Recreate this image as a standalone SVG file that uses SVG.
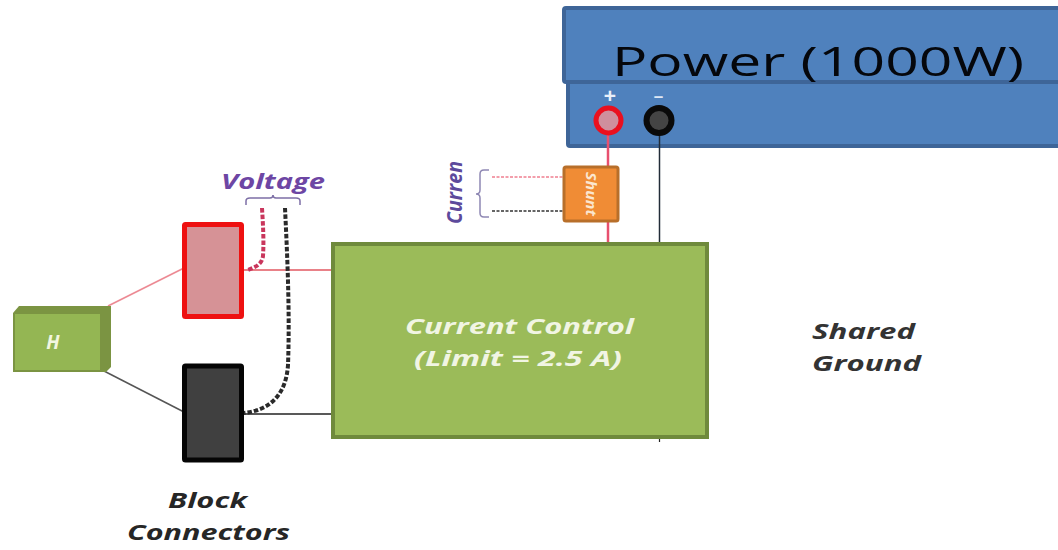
<svg xmlns="http://www.w3.org/2000/svg" width="1058" height="550" viewBox="0 0 1058 550">
<style>
.lbl{font-family:"Open Sans","DejaVu Sans",sans-serif;font-style:italic;font-weight:700}
.blue{fill:#4f81bd;stroke:#3e6598;stroke-width:4}
.green{fill:#9bbb59;stroke:#6f8a3c;stroke-width:4}
</style>
<rect width="1058" height="550" fill="#fff"/>
<g id="power">
<rect class="blue" x="568" y="78" width="494" height="68" rx="2"/>
<rect class="blue" x="564" y="8" width="498" height="74" rx="2"/>
<text x="612" y="76" font-family="'Open Sans',sans-serif" font-size="41" fill="#05070c" textLength="412" lengthAdjust="spacingAndGlyphs">Power (1000W)</text>
<text x="610" y="103" font-family="'Liberation Sans',sans-serif" font-size="21" font-weight="700" fill="#eaf0fa" text-anchor="middle">+</text>
<text x="653" y="101" font-family="'Liberation Sans',sans-serif" font-size="14" font-weight="700" fill="#dfe8f5" textLength="11" lengthAdjust="spacingAndGlyphs">-</text>
</g>
<g id="connectors" fill="none">
<path d="M608 131V244" stroke="#e8506f" stroke-width="2.500"/>
<path d="M659.500 131V244" stroke="#222c38" stroke-width="1.500"/>
<path d="M659.500 436V442" stroke="#222" stroke-width="1.200"/>
<path d="M108 306L184 268" stroke="#ec8a94" stroke-width="1.600"/>
<path d="M104 371L184 412" stroke="#555" stroke-width="1.500"/>
<path d="M244 270H334" stroke="#e25760" stroke-width="1.400"/>
<path d="M244 414H334" stroke="#222" stroke-width="1.400"/>
<path d="M262 208C263 225 264 240 263 256C262 264 256 267 248 270" stroke="#c9365c" stroke-width="4" stroke-dasharray="4.500 2"/>
<path d="M285 208C287 250 290 310 288 365C286 395 270 410 244 413" stroke="#2a2a2a" stroke-width="4" stroke-dasharray="4.500 2"/>
<path d="M492 177H565" stroke="#ef7f90" stroke-width="1.500" stroke-dasharray="3 1.500"/>
<path d="M492 211H565" stroke="#333" stroke-width="1.500" stroke-dasharray="3 1.500"/>
<path d="M246 205V201Q246 198 250 198H270Q273 198 273 195Q273 198 276 198H296Q300 198 300 201V205" stroke="#7d6fa6" stroke-width="1.500"/>
<path d="M489 170H484Q480 170 480 174V190Q480 194 476 194Q480 194 480 198V213Q480 217 484 217H489" stroke="#8f88b4" stroke-width="1.500"/>
</g>
<g id="plus-terminal"><circle cx="608.500" cy="120.500" r="12.500" fill="#cf8f9d" stroke="#e9101f" stroke-width="5"/></g>
<g id="minus-terminal"><circle cx="659" cy="120.500" r="12.500" fill="#444" stroke="#0a0a0a" stroke-width="6"/></g>
<g id="shunt">
<rect x="564" y="167" width="54" height="54" rx="2" fill="#f08c35" stroke="#b86f2a" stroke-width="3"/>
<text transform="translate(591 194) rotate(90)" class="lbl" font-size="14" fill="#fbe6cf" text-anchor="middle" dominant-baseline="central" textLength="44" lengthAdjust="spacingAndGlyphs">Shunt</text>
</g>
<g id="current-label"><text transform="translate(462 224) rotate(-90)" class="lbl" font-size="21" fill="#5d4a9c" textLength="63" lengthAdjust="spacingAndGlyphs">Curren</text></g>
<g id="voltage-label"><text x="221" y="189" class="lbl" font-size="21" fill="#6d46a4" textLength="104" lengthAdjust="spacingAndGlyphs">Voltage</text></g>
<g id="current-control">
<rect class="green" x="333" y="244" width="374" height="193"/>
<text class="lbl" font-size="22" fill="#f1f5e3" x="405" y="334" textLength="229" lengthAdjust="spacingAndGlyphs">Current Control</text>
<text class="lbl" font-size="22" fill="#f1f5e3" x="414" y="366" textLength="208" lengthAdjust="spacingAndGlyphs">(Limit = 2.5 A)</text>
</g>
<g id="block-red"><rect x="184.500" y="224.500" width="57" height="92" fill="#d69296" stroke="#ee1111" stroke-width="5" rx="1"/></g>
<g id="block-black"><rect x="184.500" y="366" width="57" height="94" fill="#404040" stroke="#050505" stroke-width="5" rx="1"/></g>
<g id="h">
<path d="M13 313L19 306H111V367L106 372H13Z" fill="#7b9442"/>
<rect x="15" y="314" width="85" height="56" fill="#94b653"/>
<text x="53" y="349" class="lbl" font-size="19" fill="#f2f6e0" text-anchor="middle">H</text>
</g>
<g id="shared-ground" class="lbl" font-size="22" fill="#333">
<text x="812" y="339" textLength="103" lengthAdjust="spacingAndGlyphs">Shared</text>
<text x="812" y="371" textLength="109" lengthAdjust="spacingAndGlyphs">Ground</text>
</g>
<g id="block-connectors" class="lbl" font-size="22" fill="#262626">
<text x="168" y="508" textLength="79" lengthAdjust="spacingAndGlyphs">Block</text>
<text x="127" y="540" textLength="163" lengthAdjust="spacingAndGlyphs">Connectors</text>
</g>
</svg>
